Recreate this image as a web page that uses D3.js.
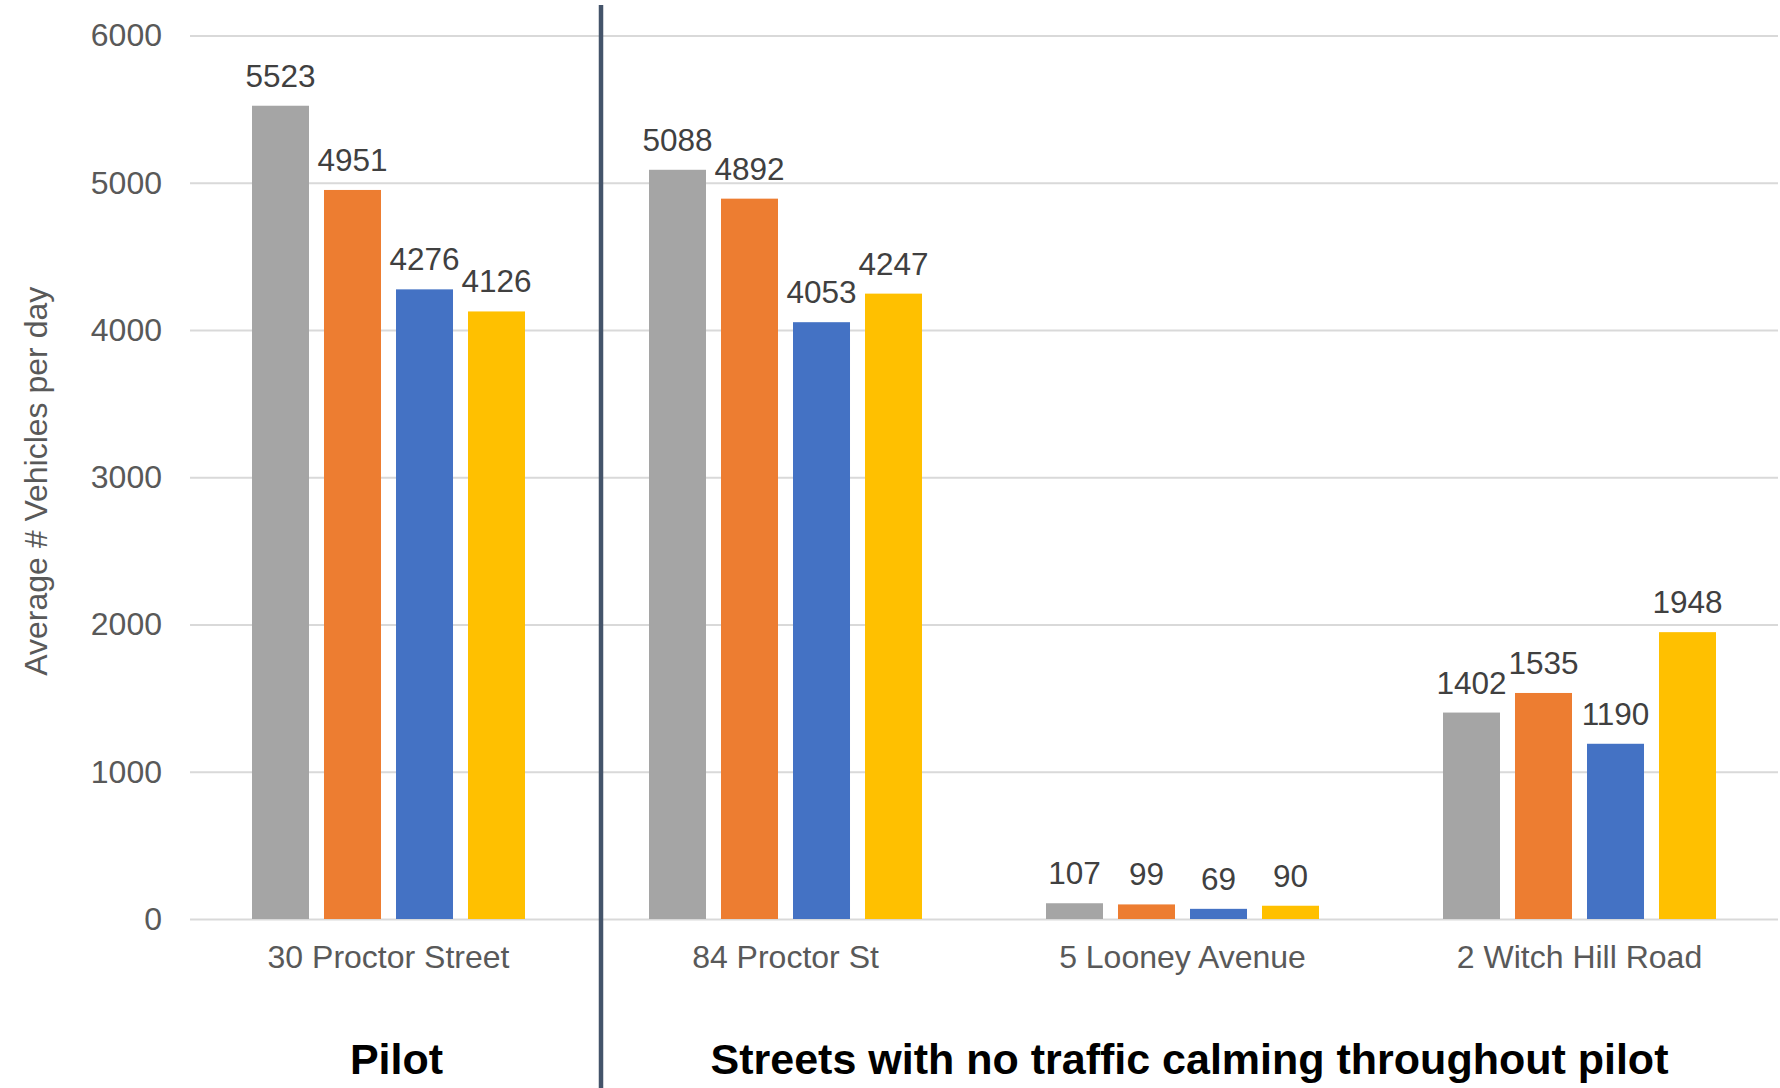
<!DOCTYPE html>
<html>
<head>
<meta charset="utf-8">
<script src="https://cdn.jsdelivr.net/npm/d3@7"></script>
<style>
  html, body { margin: 0; padding: 0; background: #ffffff; }
  svg { display: block; font-family: "Liberation Sans", Arial, Helvetica, sans-serif; }
</style>
</head>
<body>
<svg id="chart" width="1780" height="1088"></svg>
<script>
// ---- data ----
const categories = ["30 Proctor Street", "84 Proctor St", "5 Looney Avenue", "2 Witch Hill Road"];
const seriesNames = ["Count 1", "Count 2", "Count 3", "Count 4"];
const seriesColors = ["#a5a5a5", "#ed7d31", "#4472c4", "#ffc000"];
const count1 = [5523, 5088, 107, 1402];
const count2 = [4951, 4892, 99, 1535];
const count3 = [4276, 4053, 69, 1190];
const count4 = [4126, 4247, 90, 1948];
const yTicks = [0, 1000, 2000, 3000, 4000, 5000, 6000];
const groupLabels = ["Pilot", "Streets with no traffic calming throughout pilot"];
const groupMembers = [[0], [1, 2, 3]];
const yTitle = "Average # Vehicles per day";

const seriesValues = [count1, count2, count3, count4];

// ---- layout ----
const W = 1780, H = 1088;
const plot = { left: 190, right: 1778, top: 35.5, bottom: 919 };
const svg = d3.select("#chart");

const x0 = d3.scaleBand().domain(categories).range([plot.left, plot.right]).paddingInner(0).paddingOuter(0);
const x1 = d3.scaleBand().domain(seriesNames).range([0, x0.bandwidth()]).paddingInner(15 / 72).paddingOuter(0.861);
const y = d3.scaleLinear().domain([0, 6000]).range([plot.bottom, plot.top]);

// gridlines
const grid = svg.append("g").attr("transform", `translate(${plot.left},0)`)
  .call(d3.axisLeft(y).tickValues(yTicks).tickSize(-(plot.right - plot.left)).tickFormat(""));
grid.select(".domain").remove();
grid.selectAll("line").attr("stroke", "#d9d9d9").attr("stroke-width", 2);

// y tick labels
const yAxis = svg.append("g").attr("transform", `translate(${plot.left},0)`)
  .call(d3.axisLeft(y).tickValues(yTicks).tickSize(0).tickPadding(28).tickFormat(d3.format("d")));
yAxis.select(".domain").remove();
yAxis.selectAll("text").attr("fill", "#595959").style("font-size", "32px").attr("font-family", null);

// x category labels
const xAxis = svg.append("g").attr("transform", `translate(0,${plot.bottom})`)
  .call(d3.axisBottom(x0).tickSize(0));
xAxis.select(".domain").remove();
xAxis.selectAll("text").attr("fill", "#595959").style("font-size", "32px").attr("font-family", null)
  .attr("y", 49).attr("dy", null);

// bars
const rows = categories.map((c, i) => ({ cat: c, vals: seriesNames.map((s, j) => ({ s, j, v: seriesValues[j][i] })) }));
const groups = svg.append("g").selectAll("g").data(rows).join("g")
  .attr("transform", d => `translate(${x0(d.cat)},0)`);
groups.selectAll("rect").data(d => d.vals).join("rect")
  .attr("x", d => x1(d.s))
  .attr("width", x1.bandwidth())
  .attr("y", d => y(d.v))
  .attr("height", d => y(0) - y(d.v))
  .attr("fill", d => seriesColors[d.j]);
groups.selectAll("text").data(d => d.vals).join("text")
  .attr("x", d => x1(d.s) + x1.bandwidth() / 2)
  .attr("y", d => y(d.v) - 19)
  .attr("text-anchor", "middle")
  .attr("fill", "#404040")
  .style("font-size", "31.5px")
  .text(d => d.v);

// y axis title
svg.append("text")
  .attr("transform", `translate(47,${(plot.top + plot.bottom) / 2 + 4}) rotate(-90)`)
  .attr("text-anchor", "middle")
  .attr("fill", "#595959")
  .style("font-size", "32px")
  .text(yTitle);

// divider between pilot and other streets
const divX = x0(categories[1]) + 14;
svg.append("line")
  .attr("x1", divX).attr("x2", divX)
  .attr("y1", 5).attr("y2", H)
  .attr("stroke", "#44546a").attr("stroke-width", 4.5);

// group labels
svg.append("g").selectAll("text").data(groupLabels).join("text")
  .attr("x", (d, i) => d3.mean(groupMembers[i], k => x0(categories[k]) + x0.bandwidth() / 2) + (i === 0 ? 8 : 7))
  .attr("y", 1074)
  .attr("text-anchor", "middle")
  .attr("fill", "#000000")
  .style("font-size", "43px")
  .style("font-weight", "bold")
  .text(d => d);
</script>
</body>
</html>
